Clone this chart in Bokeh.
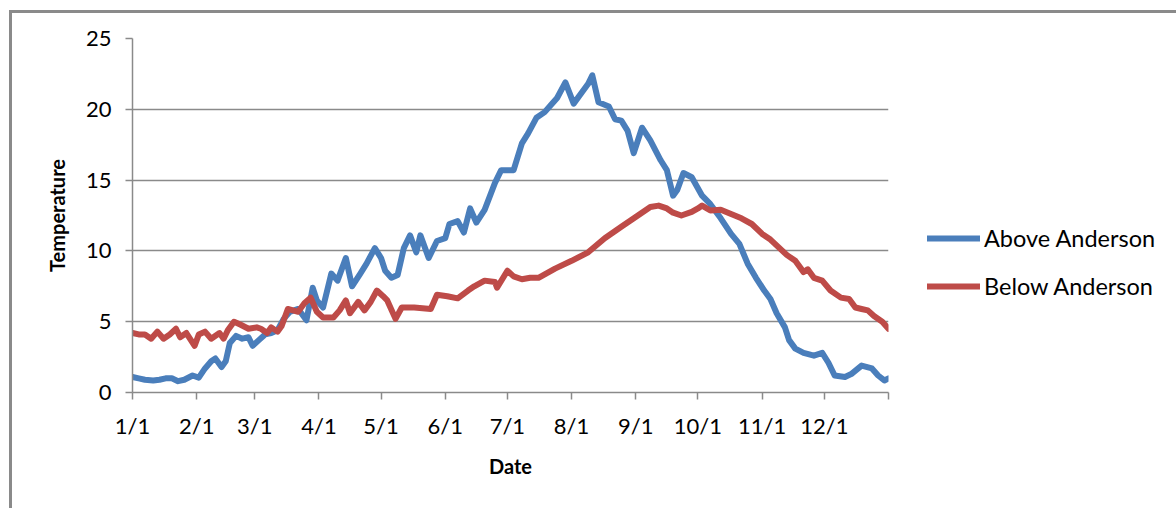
from bokeh.plotting import figure
from bokeh.layouts import column
from bokeh.models import ColumnDataSource, FixedTicker, Range1d, Legend, LegendItem
from bokeh.embed import file_html
from bokeh.resources import INLINE

# ---------------- data (day of year, temperature) ----------------
above_day = [0, 3, 6, 10, 13, 16, 19, 22, 25, 29, 32, 35, 38, 40, 43, 45, 47, 50, 53, 56,
             58, 61, 64, 67, 70, 73, 76, 80, 84, 87, 89, 92, 96, 99, 103, 106, 110, 113,
             117, 120, 122, 125, 128, 131, 134, 137, 139, 143, 147, 151, 153, 157, 160,
             163, 166, 170, 175, 178, 184, 188, 191, 195, 199, 202, 205, 209, 213, 217,
             220, 222, 225, 230, 233, 236, 239, 242, 246, 250, 255, 258, 261, 263, 266,
             270, 275, 279, 284, 289, 293, 297, 301, 305, 308, 311, 315, 317, 320, 324,
             329, 333, 336, 339, 344, 347, 352, 357, 360, 363, 365]
above_temp = [1.1, 1.0, 0.9, 0.85, 0.9, 1.0, 1.0, 0.8, 0.9, 1.2, 1.05, 1.7, 2.2, 2.4, 1.8,
              2.2, 3.5, 4.0, 3.8, 3.9, 3.3, 3.7, 4.1, 4.2, 4.4, 5.2, 5.7, 5.9, 5.1, 7.4,
              6.5, 6.0, 8.4, 7.9, 9.5, 7.5, 8.4, 9.1, 10.2, 9.5, 8.6, 8.1, 8.3, 10.2, 11.1,
              9.9, 11.1, 9.5, 10.7, 10.9, 11.9, 12.1, 11.3, 13.0, 12.0, 12.9, 14.8, 15.7,
              15.7, 17.6, 18.3, 19.4, 19.8, 20.3, 20.8, 21.9, 20.4, 21.2, 21.8, 22.4, 20.5,
              20.2, 19.3, 19.2, 18.5, 16.9, 18.7, 17.8, 16.4, 15.7, 13.9, 14.3, 15.5, 15.2,
              13.9, 13.3, 12.3, 11.2, 10.5, 9.1, 8.1, 7.2, 6.6, 5.6, 4.6, 3.7, 3.1, 2.8,
              2.6, 2.8, 2.1, 1.2, 1.1, 1.3, 1.9, 1.7, 1.2, 0.85, 1.0]

below_day = [0, 3, 6, 9, 12, 15, 18, 21, 23, 26, 30, 32, 35, 38, 42, 44, 46, 49, 52, 56,
             60, 62, 65, 67, 70, 72, 75, 80, 83, 86, 89, 92, 97, 100, 103, 105, 109, 112,
             115, 118, 121, 123, 127, 130, 136, 144, 147, 152, 157, 162, 165, 170, 175,
             176, 181, 184, 188, 192, 196, 204, 212, 220, 228, 236, 244, 250, 254, 258,
             261, 265, 270, 273, 275, 279, 284, 289, 294, 299, 304, 308, 312, 316, 320,
             324, 326, 329, 333, 337, 342, 346, 349, 352, 355, 358, 362, 365]
below_temp = [4.2, 4.1, 4.1, 3.8, 4.3, 3.8, 4.1, 4.5, 3.9, 4.2, 3.3, 4.1, 4.3, 3.8, 4.2,
              3.8, 4.4, 5.0, 4.8, 4.5, 4.6, 4.5, 4.2, 4.6, 4.3, 4.7, 5.9, 5.7, 6.3, 6.7,
              5.7, 5.3, 5.3, 5.8, 6.5, 5.6, 6.4, 5.8, 6.4, 7.2, 6.8, 6.5, 5.2, 6.0, 6.0,
              5.9, 6.9, 6.8, 6.65, 7.2, 7.5, 7.9, 7.8, 7.4, 8.6, 8.2, 8.0, 8.1, 8.1, 8.75,
              9.3, 9.9, 10.9, 11.7, 12.5, 13.1, 13.2, 13.0, 12.7, 12.5, 12.75, 13.0, 13.2,
              12.85, 12.9, 12.6, 12.3, 11.9, 11.2, 10.8, 10.25, 9.7, 9.3, 8.5, 8.7, 8.1,
              7.9, 7.2, 6.7, 6.6, 6.0, 5.9, 5.8, 5.4, 5.0, 4.5]

month_ticks = [0, 31, 59, 90, 120, 151, 181, 212, 243, 273, 304, 334, 365]
month_labels = ["1/1", "2/1", "3/1", "4/1", "5/1", "6/1", "7/1", "8/1", "9/1",
                "10/1", "11/1", "12/1", ""]
y_ticks = [0, 5, 10, 15, 20, 25]

series_names = ["Above Anderson", "Below Anderson"]
series_colors = ["#4A7EBB", "#BE4B48"]

FONT = "Lato"
GRAY = "#8a8a8a"

# canvas origin is at (12, 13) of the window because of the outer border
p = figure(frame_width=756, frame_height=354, output_backend="svg", toolbar_location=None,
           x_range=Range1d(0, 365), y_range=Range1d(0, 25),
           min_border_left=120, min_border_right=10, min_border_top=25,
           min_border_bottom=116)
p.outline_line_color = None
p.background_fill_color = "white"
p.border_fill_color = "white"

src_a = ColumnDataSource(dict(x=above_day, y=above_temp))
src_b = ColumnDataSource(dict(x=below_day, y=below_temp))
ra = p.line("x", "y", source=src_a, line_color=series_colors[0], line_width=6,
            line_join="round", line_cap="round")
rb = p.line("x", "y", source=src_b, line_color=series_colors[1], line_width=6,
            line_join="round", line_cap="round")

# axes
p.xaxis.ticker = FixedTicker(ticks=month_ticks)
p.xaxis.major_label_overrides = {t: l for t, l in zip(month_ticks, month_labels)}
p.yaxis.ticker = FixedTicker(ticks=y_ticks)
for ax in (p.xaxis[0], p.yaxis[0]):
    ax.axis_line_color = GRAY
    ax.axis_line_width = 1.5
    ax.major_tick_line_color = GRAY
    ax.major_tick_line_width = 1.5
    ax.major_tick_out = 7
    ax.major_tick_in = 0
    ax.minor_tick_line_color = None
    ax.major_label_text_font = FONT
    ax.major_label_text_font_size = "22px"
    ax.major_label_text_color = "black"
    ax.axis_label_text_font = FONT
    ax.axis_label_text_font_size = "20px"
    ax.axis_label_text_font_style = "bold"
    ax.axis_label_text_color = "black"
p.xaxis.axis_label = "Date"
p.yaxis.axis_label = "Temperature"
p.xaxis.major_label_standoff = 12
p.yaxis.major_label_standoff = 14
p.xaxis.axis_label_standoff = 12
p.yaxis.axis_label_standoff = 14

p.xgrid.grid_line_color = None
p.ygrid.ticker = FixedTicker(ticks=y_ticks)
p.ygrid.grid_line_color = GRAY
p.ygrid.grid_line_width = 1.5

legend = Legend(items=[LegendItem(label=series_names[0], renderers=[ra]),
                       LegendItem(label=series_names[1], renderers=[rb])],
                location=(39, 92), orientation="vertical")
legend.border_line_color = None
legend.background_fill_alpha = 0
legend.padding = 0
legend.margin = 0
legend.spacing = 20
legend.glyph_width = 53
legend.glyph_height = 24
legend.label_height = 24
legend.label_standoff = 4
legend.label_text_font = FONT
legend.label_text_font_size = "23.5px"
legend.label_text_color = "black"
p.add_layout(legend, "right")

layout = column(p, margin=(10, 0, 0, 9),
                styles={"border-left": "3px solid #8a8a8a",
                        "border-top": "3px solid #8a8a8a"})

open("out.html", "w").write(file_html(layout, INLINE))
